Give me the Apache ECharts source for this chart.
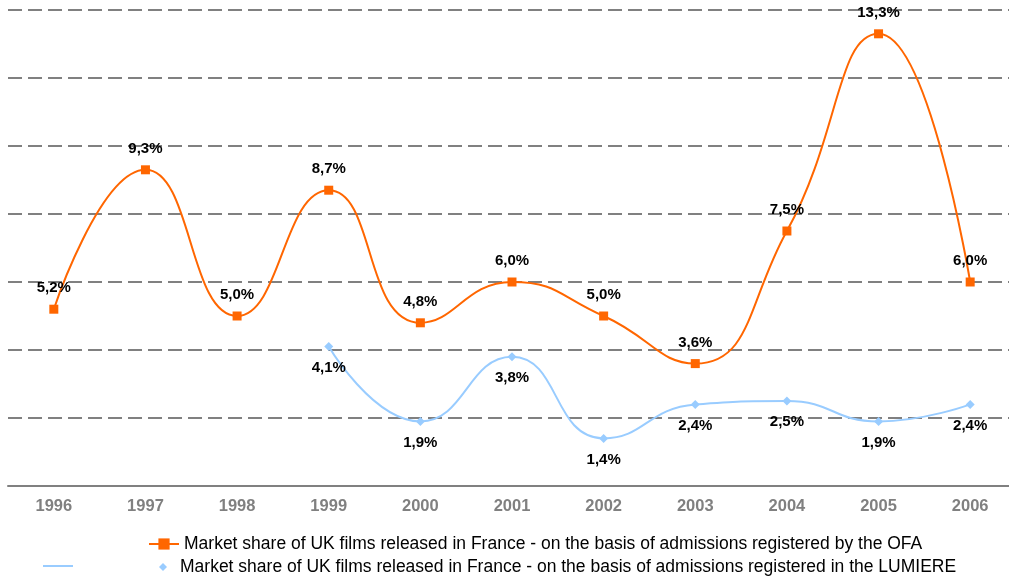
<!DOCTYPE html>
<html>
<head>
<meta charset="utf-8">
<script src="https://cdn.jsdelivr.net/npm/echarts@6/dist/echarts.min.js"></script>
<style>html,body{margin:0;padding:0;background:#fff;overflow:hidden;width:1009px;height:577px}#c{width:1016px;height:577px}</style>
</head>
<body>
<div id="c"></div>
<script>
const years = ['1996','1997','1998','1999','2000','2001','2002','2003','2004','2005','2006'];
const cnc = [5.2, 9.3, 5.0, 8.7, 4.8, 6.0, 5.0, 3.6, 7.5, 13.3, 6.0];
const lumiere = [null, null, null, 4.1, 1.9, 3.8, 1.4, 2.4, 2.5, 1.9, 2.4];
const name1 = 'Market share of UK films released in France - on the basis of admissions registered by the OFA';
const name2 = 'Market share of UK films released in France - on the basis of admissions registered in the LUMIERE';

const fmt = p => p.value == null ? '' : p.value.toFixed(1).replace('.', ',') + '%';
const font = 'Liberation Sans, Arial, sans-serif';
const chart = echarts.init(document.getElementById('c'));
chart.setOption({
  animation: false,
  textStyle: {fontFamily: font},
  grid: {left: 8, top: 10, right: 0, bottom: 91, containLabel: false},
  xAxis: {
    type: 'category', data: years, boundaryGap: true,
    axisLine: {lineStyle: {color: '#808080', width: 2}},
    axisTick: {length: 4, lineStyle: {color: '#808080', width: 1}},
    axisLabel: {color: '#808080', fontWeight: 'bold', fontSize: 16.5, margin: 12, fontFamily: font}
  },
  yAxis: {
    type: 'value', min: 0, max: 14, interval: 2,
    axisLine: {show: false}, axisTick: {show: false}, axisLabel: {show: false},
    splitLine: {lineStyle: {color: '#808080', width: 2, type: [14, 6]}}
  },
  legend: [
    {data: [name1], left: 148, top: 535, padding: 0, itemWidth: 30, itemHeight: 14, textStyle: {fontSize: 17.5, color: '#000', fontFamily: font}},
    {data: [{name: name2, icon: 'diamond'}], left: 159, top: 558, padding: 0, itemWidth: 8, itemHeight: 8, textStyle: {fontSize: 17.5, color: '#000', fontFamily: font, padding: [0,0,0,8]}}
  ],
  graphic: [{type: 'line', shape: {x1: 43, y1: 566, x2: 73, y2: 566}, style: {stroke: '#99CCFF', lineWidth: 2}}],
  series: [
    {
      name: name1, type: 'line', data: cnc, smooth: 0.5,
      symbol: 'rect', symbolSize: 9,
      lineStyle: {color: '#FF6600', width: 2}, itemStyle: {color: '#FF6600'},
      label: {show: true, position: 'top', distance: 9, formatter: fmt, color: '#000', fontWeight: 'bold', fontSize: 15, fontFamily: font}
    },
    {
      name: name2, type: 'line', data: lumiere, smooth: 0.5,
      symbol: 'diamond', symbolSize: 9,
      lineStyle: {color: '#99CCFF', width: 2}, itemStyle: {color: '#99CCFF'},
      label: {show: true, position: 'bottom', distance: 9, formatter: fmt, color: '#000', fontWeight: 'bold', fontSize: 15, fontFamily: font}
    }
  ]
});
</script>
</body>
</html>
